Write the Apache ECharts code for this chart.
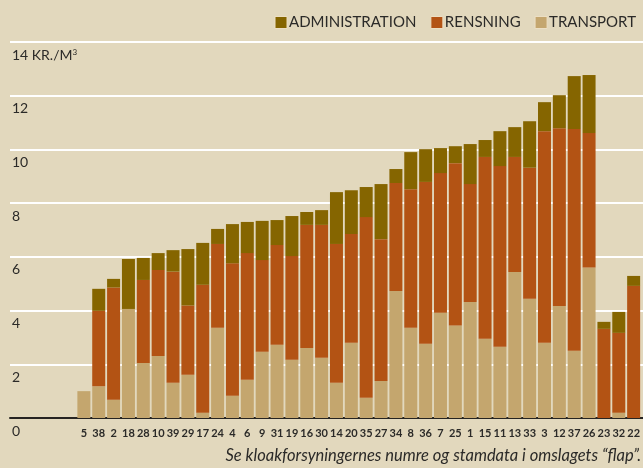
<!DOCTYPE html>
<html>
<head>
<meta charset="utf-8">
<script src="https://cdn.jsdelivr.net/npm/echarts@6/dist/echarts.min.js"></script>
<style>
  html, body { margin: 0; padding: 0; background: #e2d8bd; }
  #chart { width: 643px; height: 468px; }
</style>
</head>
<body>
<div id="chart"></div>
<script>
// kloakforsyninger, sorteret efter samlet pris
var categories = ['5', '38', '2', '18', '28', '10', '39', '29', '17', '24', '4', '6', '9', '31', '19', '16', '30', '14', '20',
  '35', '27', '34', '8', '36', '7', '25', '1', '15', '11', '13', '33', '3', '12', '37', '26', '23', '32', '22']

// kr. pr. m3
var transport = [1.0, 1.18, 0.68, 4.06, 2.05, 2.31, 1.31, 1.61, 0.2, 3.36, 0.83, 1.42, 2.47, 2.73, 2.17, 2.61, 2.24, 1.31, 2.8,
  0.75, 1.38, 4.73, 3.36, 2.76, 3.92, 3.44, 4.32, 2.95, 2.65, 5.44, 4.44, 2.8, 4.17, 2.5, 5.6, 0, 0.2, 0]
var rensning = [0, 2.81, 4.18, 0, 3.09, 3.2, 4.14, 2.58, 4.76, 3.12, 4.93, 4.72, 3.41, 3.71, 3.86, 4.58, 4.95, 5.17, 4.05,
  6.73, 5.28, 4.02, 5.16, 6.03, 5.2, 6.05, 4.39, 6.77, 6.73, 4.28, 4.88, 7.88, 6.62, 8.26, 5.01, 3.32, 2.97, 4.92]
var administration = [0, 0.82, 0.32, 1.86, 0.82, 0.63, 0.8, 2.1, 1.56, 0.56, 1.46, 1.16, 1.46, 0.93, 1.49, 0.48, 0.55, 1.93, 1.63,
  1.12, 2.05, 0.52, 1.38, 1.22, 0.93, 0.63, 1.49, 0.63, 1.3, 1.11, 1.73, 1.08, 1.23, 1.97, 2.16, 0.26, 0.78, 0.37]

var yTicks = [0, 2, 4, 6, 8, 10, 12, 14]
var emptySlots = 4 // tomme pladser før første søjle

var textColor = '#2b2a28'
var font = 'Lato, "Open Sans", sans-serif'

var xData = new Array(emptySlots).fill('').concat(categories)
function pad (arr) {
  return new Array(emptySlots).fill('-').concat(arr)
}

var myChart = echarts.init(document.getElementById('chart'))

myChart.setOption({
  backgroundColor: '#e2d8bd',
  animation: false,
  textStyle: { fontFamily: font },
  color: ['#c4a66e', '#b35314', '#856500'],
  legend: {
    top: 10,
    right: 2,
    icon: 'rect',
    itemWidth: 12,
    itemHeight: 12,
    itemGap: 14,
    itemStyle: { borderColor: '#ecdfc4', borderWidth: 1 },
    textStyle: { color: textColor, fontSize: 15, fontFamily: font, padding: [1, 0, 0, -3] },
    data: ['ADMINISTRATION', 'RENSNING', 'TRANSPORT']
  },
  // grid 0: søjler, grid 1: gitterlinjer og y-tekster fra venstre kant
  grid: [
    { left: 17, right: 0, top: 42, bottom: 50 },
    { left: 10, right: 0, top: 42, bottom: 50 }
  ],
  xAxis: [
    {
      type: 'category',
      gridIndex: 0,
      data: xData,
      axisLine: { show: false },
      axisTick: { show: false },
      axisLabel: {
        interval: 0,
        margin: 10,
        color: textColor,
        fontSize: 11,
        fontWeight: 'bold',
        fontFamily: font
      }
    },
    {
      type: 'value',
      gridIndex: 1,
      min: 0,
      max: 1,
      splitLine: { show: false },
      axisTick: { show: false },
      axisLabel: { show: false },
      axisLine: { show: true, lineStyle: { color: '#262422', width: 2 } }
    }
  ],
  yAxis: [
    {
      type: 'value',
      gridIndex: 0,
      min: yTicks[0],
      max: yTicks[yTicks.length - 1],
      interval: 2,
      show: false
    },
    {
      type: 'value',
      gridIndex: 1,
      min: yTicks[0],
      max: yTicks[yTicks.length - 1],
      interval: 2,
      axisLine: { show: false },
      axisTick: { show: false },
      splitLine: { lineStyle: { color: '#ffffff', width: 2 } },
      axisLabel: {
        inside: true,
        verticalAlign: 'top',
        margin: 2,
        padding: [6, 0, 0, 0],
        color: textColor,
        fontSize: 14,
        fontFamily: font,
        formatter: function (v) {
          if (v === 14) return '14 KR./M{sup|3}'
          return String(v)
        },
        rich: {
          sup: { fontSize: 8, verticalAlign: 'top', padding: [0, 0, 6, 0], color: textColor }
        }
      }
    }
  ],
  graphic: [{
    type: 'text',
    right: 2,
    top: 447,
    style: {
      text: 'Se kloakforsyningernes numre og stamdata i omslagets “flap”.',
      fill: textColor,
      font: 'italic 16.5px ' + font
    }
  }],
  series: [
    { name: 'TRANSPORT', type: 'bar', stack: 'pris', barWidth: 13, xAxisIndex: 0, yAxisIndex: 0, data: pad(transport) },
    { name: 'RENSNING', type: 'bar', stack: 'pris', barWidth: 13, xAxisIndex: 0, yAxisIndex: 0, data: pad(rensning) },
    { name: 'ADMINISTRATION', type: 'bar', stack: 'pris', barWidth: 13, xAxisIndex: 0, yAxisIndex: 0, data: pad(administration) }
  ]
})
</script>
</body>
</html>
